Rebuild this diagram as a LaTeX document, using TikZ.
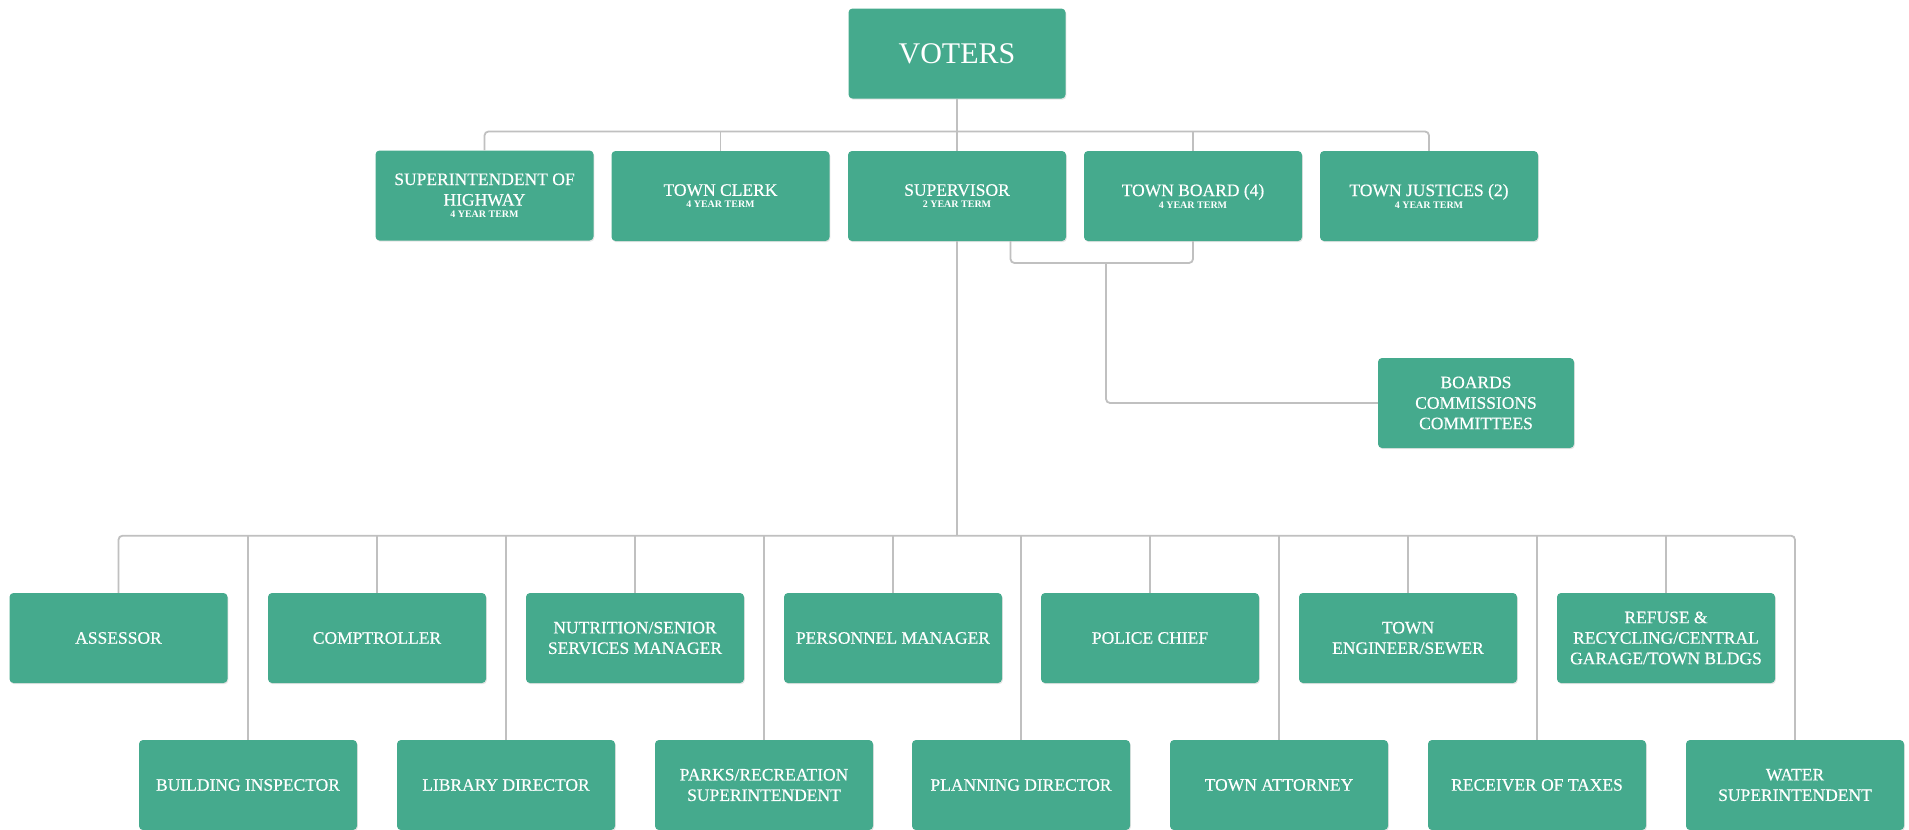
\documentclass[tikz,border=0pt]{standalone}
\usepackage{fontspec}
\setmainfont{Liberation Serif}
\newfontfamily\boxfont{Liberation Serif}[FakeBold=0.4]
\usetikzlibrary{shadows}
\definecolor{boxgreen}{RGB}{69,170,141}
\definecolor{linegrey}{RGB}{192,192,192}
\newcommand\yterm[1]{{\normalfont\fontsize{10}{11}\selectfont\bfseries #1}}
\begin{document}
\begin{tikzpicture}[x=1pt,y=-1pt,
  box/.style={fill=boxgreen, rounded corners=4pt, minimum width=218pt, minimum height=90pt,
    text=white, align=center, inner sep=2pt, font=\boxfont\fontsize{17.5}{20.5}\selectfont,
    drop shadow={shadow xshift=0.8pt, shadow yshift=-1.2pt, opacity=0.2}},
  conn/.style={draw=linegrey, line width=1.8pt, rounded corners=4pt}]
\useasboundingbox[fill=white] (0,0) rectangle (1909,830);

% top
\node[box, minimum width=217pt, font=\normalfont\fontsize{30}{34}\selectfont] (voters) at (957,53.5) {VOTERS};
\node[box] (supt) at (484.5,195.5) {SUPERINTENDENT OF\\HIGHWAY\\[-8.5pt]\yterm{4 YEAR TERM}};
\node[box] (clerk) at (720.5,196) {TOWN CLERK\\[-8.5pt]\yterm{4 YEAR TERM}};
\node[box] (superv) at (957,196) {SUPERVISOR\\[-8.5pt]\yterm{2 YEAR TERM}};
\node[box] (board) at (1193,196) {TOWN BOARD (4)\\[-8.5pt]\yterm{4 YEAR TERM}};
\node[box] (justices) at (1429,196) {TOWN JUSTICES (2)\\[-8.5pt]\yterm{4 YEAR TERM}};
\node[box, minimum width=196pt] (boards) at (1476,403) {BOARDS\\COMMISSIONS\\COMMITTEES};

% row 1
\node[box] (assessor) at (118.5,638) {ASSESSOR};
\node[box] (comptroller) at (377,638) {COMPTROLLER};
\node[box] (nutrition) at (635,638) {NUTRITION/SENIOR\\SERVICES MANAGER};
\node[box] (personnel) at (893,638) {PERSONNEL MANAGER};
\node[box] (police) at (1150,638) {POLICE CHIEF};
\node[box] (engineer) at (1408,638) {TOWN\\ENGINEER/SEWER};
\node[box] (refuse) at (1666,638) {REFUSE \&\\RECYCLING/CENTRAL\\GARAGE/TOWN BLDGS};

% row 2
\node[box] (building) at (248,785) {BUILDING INSPECTOR};
\node[box] (library) at (506,785) {LIBRARY DIRECTOR};
\node[box] (parks) at (764,785) {PARKS/RECREATION\\SUPERINTENDENT};
\node[box] (planning) at (1021,785) {PLANNING DIRECTOR};
\node[box] (attorney) at (1279,785) {TOWN ATTORNEY};
\node[box] (receiver) at (1537,785) {RECEIVER OF TAXES};
\node[box] (water) at (1795,785) {WATER\\SUPERINTENDENT};

% connectors top
\coordinate (tb) at (957,131.5);
\draw[conn] (voters.south) -- (superv.north);
\draw[conn] (supt.north) |- (tb) -| (justices.north);
\draw[conn] (clerk.north) -- (clerk.north |- tb);
\draw[conn] (board.north) -- (board.north |- tb);

% bracket to boards
\coordinate (bk) at (1106,263);
\draw[conn] ([xshift=53.5pt]superv.south) |- (bk) -| (board.south);
\draw[conn] (bk) |- (boards.west);

% bottom
\coordinate (hb) at (957,535.7);
\draw[conn] (superv.south) -- (hb);
\draw[conn] (assessor.north) |- (hb) -| (water.north);
\foreach \n in {building,comptroller,library,nutrition,parks,personnel,planning,police,attorney,engineer,receiver,refuse}
  \draw[conn] (\n.north) -- (\n.north |- hb);
\end{tikzpicture}
\end{document}
